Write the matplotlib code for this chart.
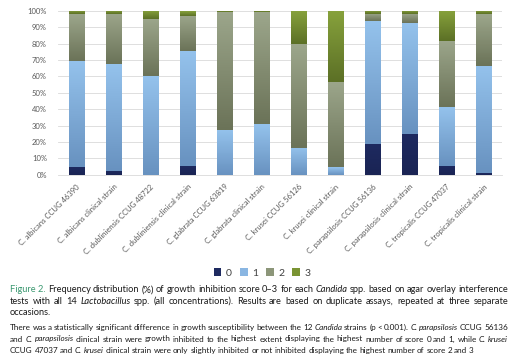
import numpy as np
from matplotlib import pyplot as plt
from matplotlib.colors import LinearSegmentedColormap
from matplotlib.patches import Patch

strains = [
    "C. albicans CCUG 46390", "C. albicans clinical strain",
    "C. dubliniensis CCUG 48722", "C. dubliniensis clinical strain",
    "C. glabrata CCUG 63819", "C. glabrata clinical strain",
    "C. krusei CCUG 56126", "C. krusei clinical strain",
    "C. parapsilosis CCUG 56136", "C. parapsilosis clinical strain",
    "C. tropicalis CCUG 47037", "C. tropicalis clinical strain",
]
score_0 = [4.5, 2.5, 0, 5.5, 0, 0, 0, 0, 19, 25, 5.5, 1]
score_1 = [65, 65, 60, 70, 27, 31, 16.5, 4.5, 74.5, 67.5, 35.5, 65.5]
score_2 = [28.5, 30.5, 35, 21.5, 72, 68, 63, 52, 4.5, 5.5, 40.5, 31.5]
score_3 = [2, 2, 5, 3, 1, 1, 20.5, 43.5, 2, 2, 18.5, 2]
scores = ["0", "1", "2", "3"]
yticks = [0, 10, 20, 30, 40, 50, 60, 70, 80, 90, 100]

FONT = "Lato"
plt.rcParams["font.family"] = [FONT, "DejaVu Sans"]

# (top colour, bottom colour) for the gradient of each score segment
seg_colors = [
    ("#1e2a60", "#1a2454"),
    ("#94c2ec", "#6892c0"),
    ("#9ca68b", "#6b7358"),
    ("#87a23c", "#5c7026"),
]
legend_colors = ["#1e2a60", "#8ab6e2", "#8c9679", "#7a9433"]

fig = plt.figure(figsize=(5.18, 3.62), dpi=100)
ax = fig.add_axes([0.112, 0.5174, 0.857, 0.4530])

x = np.arange(len(strains))
width = 0.41
bottom = np.zeros(len(strains))
for vals, (ctop, cbot) in zip([score_0, score_1, score_2, score_3], seg_colors):
    cmap = LinearSegmentedColormap.from_list("seg", [cbot, ctop])
    grad = np.linspace(0, 1, 64)[:, None]
    for xi, b, v in zip(x, bottom, vals):
        if v <= 0:
            continue
        ax.imshow(grad, extent=(xi - width / 2, xi + width / 2, b, b + v),
                  cmap=cmap, aspect="auto", origin="lower", zorder=3,
                  interpolation="bilinear")
    bottom += np.array(vals)

ax.set_xlim(-0.5, len(strains) - 0.5)
ax.set_ylim(0, 100)
ax.set_yticks(yticks)
ax.set_yticklabels([f"{t}%" for t in yticks])
ax.grid(axis="y", color="#d9d9d9", linewidth=0.6, zorder=0)
for s in ["top", "right", "left"]:
    ax.spines[s].set_visible(False)
ax.spines["bottom"].set_color("#d9d9d9")
ax.spines["bottom"].set_linewidth(0.6)
ax.tick_params(axis="both", length=0, labelsize=5.5, colors="#595959")
ax.tick_params(axis="y", pad=8)
ax.set_xticks(x)
ax.set_xticklabels(strains, rotation=45, ha="right", rotation_mode="anchor")
ax.tick_params(axis="x", pad=6)

handles = [Patch(facecolor=c, edgecolor="none") for c in legend_colors]
fig.legend(handles, scores, loc="center", bbox_to_anchor=(262 / 518, 1 - 273 / 362),
           ncol=4, frameon=False, fontsize=7.5, handlelength=0.75, handleheight=0.75,
           handletextpad=0.4, columnspacing=0.8, labelcolor="#404040")


def draw_line(line, y, size, x0=10, x1=508, justify=True, first=None):
    renderer = fig.canvas.get_renderer()
    words = []
    if first:
        words.append((first, "normal", "#3a9870"))
    for w in line.split(" "):
        if w.startswith("*") and w.endswith("*"):
            words.append((w.strip("*"), "italic", "#1a1a1a"))
        else:
            words.append((w, "normal", "#1a1a1a"))
    texts = []
    for w, style, col in words:
        t = fig.text(0, 1 - y / 362, w, fontsize=size, style=style, color=col,
                     va="baseline", ha="left", family=[FONT, "DejaVu Sans"])
        texts.append(t)
    widths = [t.get_window_extent(renderer).width for t in texts]
    if justify and len(texts) > 1:
        gap = (x1 - x0 - sum(widths)) / (len(texts) - 1)
    else:
        gap = size * 0.3
    pos = x0
    for t, w in zip(texts, widths):
        t.set_x(pos / 518)
        pos += w + gap


draw_line("Frequency distribution (%) of growth inhibition score 0–3 for each *Candida* "
          "spp. based on agar overlay interference", 292.5, 6.7, first="Figure 2.")
draw_line("tests with all 14 *Lactobacillus* spp. (all concentrations). Results are based "
          "on duplicate assays, repeated at three separate", 304, 6.7)
draw_line("occasions.", 315, 6.7, justify=False)
draw_line("There was a statistically significant difference in growth susceptibility between "
          "the 12 *Candida* strains (p < 0.001). *C.* *parapsilosis* CCUG 56136", 330, 5.9)
draw_line("and *C.* *parapsilosis* clinical strain were growth inhibited to the highest extent "
          "displaying the highest number of score 0 and 1, while *C.* *krusei*", 341.5, 5.9)
draw_line("CCUG 47037 and *C.* *krusei* clinical strain were only slightly inhibited or not "
          "inhibited displaying the highest number of score 2 and 3", 353, 5.9, justify=False)

fig.savefig("out.png", dpi=100)
